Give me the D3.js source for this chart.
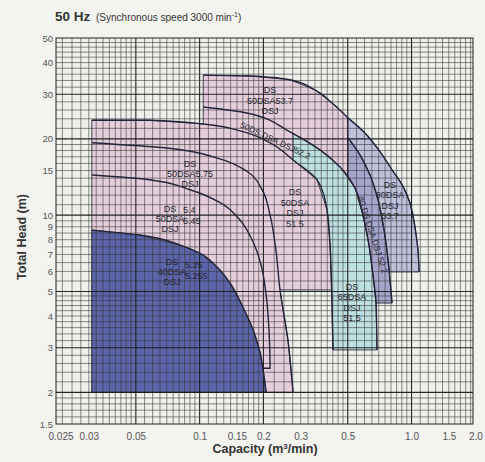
<!DOCTYPE html>
<html>
<head>
  <meta charset="utf-8" />
  <title>DS pumps 50 Hz</title>
  <script src="https://d3js.org/d3.v7.min.js"></script>
</head>
<style>
body { margin: 0; background: #f3f3f0; }
text { font-family: 'Liberation Sans', Arial, sans-serif; }
</style>
<body>
<div id="viz"></div>
<script>
'use strict';

// H-Q curves, [capacity m3/min, total head m]
const c40dsa525 = [[0.031,8.73],[0.052,8.35],[0.081,7.62],[0.100,7.09],[0.121,6.24],[0.139,5.40],[0.160,4.34],[0.179,3.52],[0.193,2.86],[0.201,2.34],[0.206,2.0]];
const c50dsa54 = [[0.031,14.4],[0.058,13.8],[0.090,12.6],[0.125,11.2],[0.155,9.57],[0.177,7.98],[0.195,6.36],[0.206,4.84],[0.2125,3.52],[0.215,2.49],[0.199,2.49]];
const c50dsa575 = [[0.031,19.3],[0.070,18.4],[0.121,16.8],[0.169,14.8],[0.197,12.6],[0.215,10.0],[0.229,7.29],[0.2395,5.07],[0.261,3.22],[0.276,2.0]];
const c50dsa515 = [[0.031,23.7],[0.058,23.7],[0.104,22.9],[0.155,21.5],[0.215,19.3],[0.276,16.5],[0.358,13.8],[0.399,10.5],[0.412,7.76],[0.421,4.63],[0.426,2.94]];
const c50ds522 = [[0.104,26.7],[0.167,25.3],[0.267,21.3],[0.37,18.1],[0.46,15.5],[0.541,12.8],[0.590,10.0],[0.630,7.62],[0.658,5.80],[0.680,4.50],[0.687,2.94]];
const c50dsa537 = [[0.104,35.7],[0.173,35.4],[0.267,34.2],[0.350,31.2],[0.426,27.5],[0.501,24.2]];
const c80dsa537 = [[0.501,24.2],[0.603,21.1],[0.710,17.8],[0.809,15.1],[0.902,13.2],[0.983,11.2],[1.038,8.98],[1.073,7.29],[1.085,5.97]];
const c80ds522 = [[0.501,20.2],[0.571,17.3],[0.637,14.4],[0.695,11.5],[0.742,8.73],[0.775,6.65],[0.809,4.5]];

// range limits
const qMin = 0.031;
const hMin = 2.0;

// labels: anchor [Q, H], lines
const labels = [
  {q: 0.0741, h: 6.36, anchor: 'middle', lh: 10, lines: ['DS', '40DSA', 'DSJ']},
  {q: 0.0853, h: 6.18, anchor: 'start', lh: 11, lines: ['5.25', '5.255']},
  {q: 0.0725, h: 10.29, anchor: 'middle', lh: 10, lines: ['DS', '50DSA', 'DSJ']},
  {q: 0.0835, h: 10.2, anchor: 'start', lh: 11, lines: ['5.4', '5.45']},
  {q: 0.0901, h: 15.49, anchor: 'middle', lh: 10, lines: ['DS', '50DSA5.75', 'DSJ']},
  {q: 0.2818, h: 12.0, anchor: 'middle', lh: 10.5, lines: ['DS', '50DSA', 'DSJ', '51.5']},
  {q: 0.2149, h: 30.3, anchor: 'middle', lh: 10.5, lines: ['DS', '50DSA53.7', 'DSJ']},
  {q: 0.5236, h: 5.07, anchor: 'middle', lh: 10.5, lines: ['DS', '65DSA', 'DSJ', '51.5']},
  {q: 0.791, h: 12.8, anchor: 'middle', lh: 10.5, lines: ['DS', '80DSA', 'DSJ', '53.7']}
];
const slanted = [
  {q: 0.2268, h: 19.6, angle: 25, text: '50DS.DSA.DSJ52.2'},
  {q: 0.651, h: 8.35, angle: 72, text: '80 DS DSA DSJ 52.2'}
];

const xTicks = [0.025, 0.03, 0.05, 0.1, 0.15, 0.2, 0.3, 0.5, 1.0, 1.5, 2.0];
const xTickText = ['0.025', '0.03', '0.05', '0.1', '0.15', '0.2', '0.3', '0.5', '1.0', '1.5', '2.0'];
const yTicks = [1.5, 2, 3, 4, 5, 6, 7, 8, 9, 10, 15, 20, 30, 40, 50];

const W = 485, H = 462;
const svg = d3.select('#viz').append('svg')
  .attr('width', W).attr('height', H);

const x = d3.scaleLog().domain([0.021, 1.95]).range([56, 473]);
const y = d3.scaleLog().domain([1.5, 50]).range([424, 38]);

const line = d3.line().x(d => x(d[0])).y(d => y(d[1]));
const area = pts => line(pts) + 'Z';

svg.append('rect')
  .attr('x', x.range()[0]).attr('y', y.range()[1])
  .attr('width', x.range()[1] - x.range()[0])
  .attr('height', y.range()[0] - y.range()[1])
  .attr('fill', '#eef0eb');

// zones, back to front
const pinkZone = [[qMin, hMin], ...c50dsa515.slice(0, 3), ...c50dsa537, [0.501, 5.07], ...c50dsa575.slice(7)];
const cyanZone = [...c50dsa515.slice(5), ...c50ds522.slice(3).reverse(), [0.276, 21.0]];
const greyZone = [...c80dsa537, [0.786, 5.97], ...c80ds522.slice(0, 6).reverse()];
const purpleZone = [[0.501, 14.1], ...c50ds522.slice(5, 10), ...c80ds522.slice().reverse()];
const blueZone = [[qMin, hMin], ...c40dsa525];

const zones = [
  {pts: pinkZone, fill: '#e5cedb'},
  {pts: cyanZone, fill: '#bfe0e2'},
  {pts: greyZone, fill: '#bdc1da'},
  {pts: purpleZone, fill: '#a7a5ca'},
  {pts: blueZone, fill: '#5b65aa'}
];
svg.append('g').selectAll('path').data(zones).join('path')
  .attr('d', d => area(d.pts))
  .attr('fill', d => d.fill)
  .attr('stroke', '#2e2e40')
  .attr('stroke-width', 0.9);

// log paper grid
function gridVals(steps) {
  const out = [];
  steps.forEach(([a, b, s]) => {
    d3.range(a, b - s / 2, s).forEach(v => out.push(+v.toFixed(5)));
  });
  return out;
}
const xGrid = gridVals([[0.0225, 0.05, 0.0025], [0.05, 0.1, 0.005], [0.1, 0.2, 0.01], [0.2, 0.5, 0.025], [0.5, 1, 0.05], [1, 2, 0.1]]);
const yGrid = gridVals([[1.6, 2, 0.1], [2, 5, 0.2], [5, 10, 0.5], [10, 20, 1], [20, 50, 2]]);
const xHeavy = [0.05, 0.1, 0.2, 0.5, 1];
const yHeavy = [2, 3, 5, 10, 20, 30];

const grid = svg.append('g');
grid.selectAll('line.vx').data(xGrid).join('line')
  .attr('x1', d => x(d)).attr('x2', d => x(d))
  .attr('y1', y.range()[0]).attr('y2', y.range()[1])
  .attr('stroke', d => xHeavy.includes(d) ? '#1a1a1a' : '#333')
  .attr('stroke-opacity', d => xHeavy.includes(d) ? 0.95 : 0.8)
  .attr('stroke-width', d => xHeavy.includes(d) ? 1.1 : 0.7);
grid.selectAll('line.hy').data(yGrid).join('line')
  .attr('y1', d => y(d)).attr('y2', d => y(d))
  .attr('x1', x.range()[0]).attr('x2', x.range()[1])
  .attr('stroke', d => yHeavy.includes(d) ? '#1a1a1a' : '#333')
  .attr('stroke-opacity', d => yHeavy.includes(d) ? 0.95 : 0.8)
  .attr('stroke-width', d => yHeavy.includes(d) ? 1.1 : 0.7);

svg.append('rect')
  .attr('x', x.range()[0]).attr('y', y.range()[1])
  .attr('width', x.range()[1] - x.range()[0])
  .attr('height', y.range()[0] - y.range()[1])
  .attr('fill', 'none').attr('stroke', '#222').attr('stroke-width', 1);

// performance curves
const curves = [c40dsa525, c50dsa54, c50dsa575, c50dsa515, c50ds522, c50dsa537, c80dsa537, c80ds522];
svg.append('g').selectAll('path').data(curves).join('path')
  .attr('d', d => line.curve(d3.curveMonotoneY)(d))
  .attr('fill', 'none')
  .attr('stroke', '#24243a')
  .attr('stroke-width', 1.4);
line.curve(d3.curveLinear);

// zone labels
const lab = svg.append('g').attr('fill', '#262630').attr('font-size', 9);
labels.forEach(l => {
  const t = lab.append('text')
    .attr('text-anchor', l.anchor)
    .attr('x', x(l.q)).attr('y', y(l.h));
  l.lines.forEach((s, i) => {
    t.append('tspan').attr('x', x(l.q)).attr('dy', i === 0 ? 0 : l.lh).text(s);
  });
});
slanted.forEach(l => {
  lab.append('text')
    .attr('text-anchor', 'middle')
    .attr('dominant-baseline', 'middle')
    .attr('transform', 'translate(' + x(l.q) + ',' + y(l.h) + ') rotate(' + l.angle + ')')
    .attr('font-size', 8.5)
    .text(l.text);
});

// axes
const xAxis = svg.append('g')
  .attr('transform', 'translate(0,' + y.range()[0] + ')')
  .call(d3.axisBottom(x).tickValues(xTicks).tickFormat((d, i) => xTickText[i]).tickSize(0).tickPadding(9));
xAxis.select('.domain').remove();
xAxis.selectAll('text')
  .attr('font-size', 10).attr('fill', '#555')
  .attr('font-family', "'Liberation Sans', Arial, sans-serif")
  .attr('text-anchor', (d, i) => i === 0 ? 'end' : 'middle')
  .attr('dx', (d, i) => i === 0 ? 1 : 0);

const yAxis = svg.append('g')
  .attr('transform', 'translate(' + x.range()[0] + ',0)')
  .call(d3.axisLeft(y).tickValues(yTicks).tickFormat(d3.format('')).tickSize(0).tickPadding(3));
yAxis.select('.domain').remove();
yAxis.selectAll('text')
  .attr('font-size', 9.5).attr('fill', '#555')
  .attr('font-family', "'Liberation Sans', Arial, sans-serif");

svg.append('text')
  .attr('x', 265).attr('y', 453)
  .attr('text-anchor', 'middle')
  .attr('font-size', 12.5).attr('font-weight', 'bold').attr('fill', '#333')
  .html('Capacity (m<tspan font-size="8" dy="-4">3</tspan><tspan dy="4">/min)</tspan>');

svg.append('text')
  .attr('transform', 'translate(26,237) rotate(-90)')
  .attr('text-anchor', 'middle')
  .attr('font-size', 12.5).attr('font-weight', 'bold').attr('fill', '#333')
  .text('Total Head (m)');

const title = svg.append('text').attr('x', 55).attr('y', 21).attr('fill', '#333');
title.append('tspan').attr('font-size', 13.5).attr('font-weight', 'bold').text('50 Hz ');
title.append('tspan').attr('font-size', 10).attr('dx', 2).text('(Synchronous speed  3000 min');
title.append('tspan').attr('font-size', 7).attr('dy', -4).text('-1');
title.append('tspan').attr('font-size', 10).attr('dy', 4).text(')');
</script>
</body>
</html>
